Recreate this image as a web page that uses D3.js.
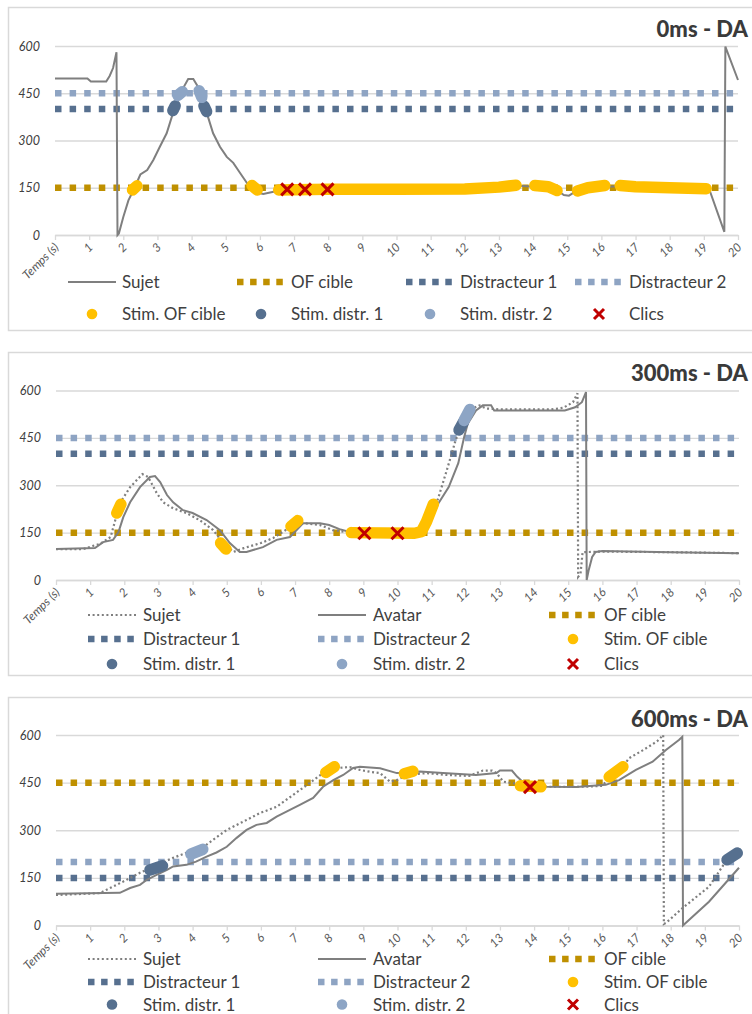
<!DOCTYPE html>
<html>
<head>
<meta charset="utf-8">
<script src="https://cdn.jsdelivr.net/npm/d3@7"></script>
<style>
body { margin: 0; background: #fff; }
svg { display: block; }
text { font-family: Lato, "Open Sans", sans-serif; }
</style>
</head>
<body>
<svg width="752" height="1014"></svg>
<script>
// axis ticks
var xTicks = [0, 1, 2, 3, 4, 5, 6, 7, 8, 9, 10, 11, 12, 13, 14, 15, 16, 17, 18, 19, 20]
var xLabels = ['Temps (s)', '1', '2', '3', '4', '5', '6', '7', '8', '9', '10', '11', '12', '13', '14', '15', '16', '17', '18', '19', '20']
var yTicks = [0, 150, 300, 450, 600]

// ---- 0ms - DA ----
var sujet0 = [[0,497],[0.95,497],[1.05,487],[1.5,487],[1.6,505],[1.7,530],[1.8,580],[1.83,0],[1.87,5],[2.0,57],[2.15,110],[2.3,143],[2.5,192],[2.7,206],[2.88,238],[3.07,280],[3.27,323],[3.42,375],[3.57,419],[3.72,460],[3.9,495],[4.05,495],[4.19,470],[4.34,429],[4.48,375],[4.63,323],[4.83,280],[5.03,248],[5.22,229],[5.42,197],[5.62,165],[5.8,137],[6.1,130],[6.4,137],[6.6,143],[8,145],[10,145],[12,146],[13,152],[13.5,157],[13.8,155],[14.3,152],[14.7,142],[14.9,127],[15.05,125],[15.2,135],[15.4,145],[16,152],[16.5,155],[17,151],[18,150],[19.15,148],[19.6,10],[19.63,598],[20,492]]
var cible0 = 150, distr1_0 = 400, distr2_0 = 450
var stimCible0 = [
    [[2.27,143],[2.4,156]],
    [[5.77,157],[5.92,143]],
    [[6.55,143],[8,145],[10,145],[12,146],[13,152],[13.5,158]],
    [[14.05,157],[14.45,153],[14.7,141]],
    [[15.3,140],[15.6,150],[16.1,157]],
    [[16.55,157],[17,153],[18,150],[19.07,147]]
]
var stimD1_0 = [[[3.45,395],[3.52,410]], [[4.36,410],[4.44,392]]]
var stimD2_0 = [[[3.6,443],[3.73,455]], [[4.22,458],[4.3,437]]]
var clics0 = [[6.8,145],[7.32,145],[7.98,145]]

// ---- 300ms - DA ----
var sujet300 = [[0,98],[0.8,98],[1.0,105],[1.3,115],[1.6,136],[1.87,243],[2.17,294],[2.53,335],[2.7,326],[2.95,275],[3.14,246],[3.43,227],[3.82,212],[4.2,190],[4.6,158],[4.9,117],[5.2,89],[5.5,101],[6.0,117],[6.36,133],[6.87,168],[7.24,180],[7.73,174],[8.1,158],[8.5,152],[9,150],[10.6,150],[10.85,175],[11.0,199],[11.2,262],[11.47,357],[11.7,442],[11.9,496],[12.2,543],[12.4,553],[12.6,543],[13,540],[14.5,540],[14.85,545],[15.14,563],[15.27,591],[15.29,10],[15.36,20],[15.42,88],[16,90],[18,88],[20,85]]
var avatar300 = [[0,98],[1.14,101],[1.38,120],[1.67,127],[1.83,152],[1.97,199],[2.17,246],[2.46,294],[2.75,326],[2.9,329],[3.05,310],[3.25,269],[3.43,246],[3.72,221],[4.0,212],[4.41,190],[4.8,158],[5.09,117],[5.38,89],[5.58,89],[6.06,104],[6.46,127],[6.85,136],[7.24,180],[7.73,180],[8.0,174],[8.3,161],[8.6,152],[9,150],[10.8,150],[11.2,243],[11.5,294],[11.78,370],[11.95,452],[12.06,496],[12.3,537],[12.5,553],[12.74,553],[12.83,537],[14.9,537],[15.2,547],[15.4,563],[15.52,595],[15.54,0],[15.6,32],[15.7,73],[15.8,89],[16,92],[18,88],[20,85]]
var cible300 = 150, distr1_300 = 400, distr2_300 = 450
var stimCible300 = [
    [[1.78,212],[1.9,240]],
    [[4.82,117],[4.98,98]],
    [[6.88,170],[7.08,188]],
    [[8.65,150],[10.5,148],[10.7,153],[10.85,185],[11.05,240]]
]
var stimD1_300 = [[[11.8,475],[11.93,500]]]
var stimD2_300 = [[[11.95,505],[12.12,540]]]
var clics300 = [[9.03,148],[10.0,148]]

// ---- 600ms - DA ----
var sujet600 = [[0,96],[1.29,102],[1.58,118],[1.96,138],[2.46,166],[2.96,191],[3.43,213],[3.82,229],[4.2,238],[4.6,270],[5.0,301],[5.48,327],[5.97,354],[6.46,374],[6.94,411],[7.43,449],[7.82,480],[8.22,496],[8.6,499],[8.9,490],[9.2,484],[9.49,480],[9.78,453],[9.98,458],[10.3,475],[10.86,480],[11.45,474],[12.1,471],[12.5,488],[12.77,488],[12.9,480],[13.1,453],[13.4,448],[13.7,440],[14.2,437],[15.5,437],[16.0,440],[16.2,465],[16.6,500],[16.78,527],[17.2,553],[17.6,580],[17.78,600],[17.8,5],[17.86,8],[18.36,56],[19.12,122],[19.7,216],[20,243]]
var avatar600 = [[0,100],[1.87,103],[2.17,118],[2.46,128],[2.66,144],[2.96,160],[3.25,175],[3.43,186],[3.82,191],[4.1,201],[4.41,217],[4.7,230],[5.0,248],[5.29,276],[5.58,301],[5.87,317],[6.17,323],[6.46,343],[6.85,364],[7.14,380],[7.53,402],[7.82,437],[8.12,458],[8.41,474],[8.7,496],[8.9,500],[9.49,495],[9.98,480],[10.3,481],[10.66,485],[11.33,480],[12.3,474],[12.9,480],[13.0,488],[13.35,488],[13.5,469],[13.7,449],[14.0,440],[14.37,437],[15.23,436],[16.1,443],[16.49,458],[16.98,490],[17.47,516],[17.86,553],[18.24,584],[18.34,594],[18.36,0],[18.39,3],[19.12,75],[20,182]]
var cible600 = 450, distr1_600 = 150, distr2_600 = 200
var stimCible600 = [
    [[7.9,482],[8.15,500]],
    [[10.2,478],[10.45,486]],
    [[13.6,440],[14.2,437]],
    [[16.2,468],[16.6,500]]
]
var stimD1_600 = [[[2.75,175],[3.12,188]], [[19.65,207],[19.95,228]]]
var stimD2_600 = [[[3.95,225],[4.3,240]]]
var clics600 = [[13.88,436]]

var C = {
    line: '#7f7f7f', cible: '#bf9000', d1: '#57708f', d2: '#8ea4c3',
    stim: '#ffc000', sd1: '#56708f', sd2: '#8da5c5', clic: '#c00000',
    grid: '#d9d9d9', text: '#404040'
}
var svg = d3.select('svg')
var xPath = 'M-6,-6L6,6M-6,6L6,-6'

function drawPanel(p) {
    var g = svg.append('g')
    g.append('rect')
        .attr('x', 8.5).attr('y', p.boxTop + 0.5)
        .attr('width', 780).attr('height', p.boxH)
        .attr('fill', 'none').attr('stroke', C.grid).attr('stroke-width', 1.5)

    var x = d3.scaleLinear().domain([0, 20]).range([p.x0, p.x1])
    var y = d3.scaleLinear().domain([0, 600]).range([p.y0, p.y1])

    // y axis + gridlines
    var ya = g.append('g')
        .attr('transform', 'translate(' + p.x0 + ',0)')
        .call(d3.axisLeft(y).tickValues(yTicks).tickSize(-(p.x1 - p.x0)).tickPadding(15))
    ya.select('.domain').remove()
    ya.selectAll('line').attr('stroke', C.grid).attr('stroke-width', 1.3)
    ya.selectAll('text')
        .style('font-size', '12.5px').style('font-style', 'italic')
        .attr('fill', C.text)

    // x axis
    var xa = g.append('g')
        .attr('transform', 'translate(0,' + p.y0 + ')')
        .call(d3.axisBottom(x).tickValues(xTicks).tickSize(5).tickSizeOuter(0)
            .tickFormat(function(d, i) { return xLabels[i] }))
    xa.select('.domain').attr('stroke', C.grid).attr('stroke-width', 1.3)
    xa.selectAll('line').attr('stroke', C.grid).attr('stroke-width', 1.3)
    xa.selectAll('text')
        .attr('x', 0).attr('y', 0).attr('dy', 0)
        .attr('text-anchor', 'end')
        .attr('transform', 'translate(4,13) rotate(-45)')
        .style('font-size', '12px').style('font-style', 'italic')
        .attr('fill', '#595959')

    // reference lines
    var refs = [[p.distr2, C.d2], [p.distr1, C.d1], [p.cible, C.cible]]
    refs.forEach(function(r) {
        g.append('line')
            .attr('x1', x(0)).attr('x2', x(20))
            .attr('y1', y(r[0])).attr('y2', y(r[0]))
            .attr('stroke', r[1]).attr('stroke-width', 6.5)
            .attr('stroke-dasharray', '6.5 8.1')
    })

    var line = d3.line().x(function(d) { return x(d[0]) }).y(function(d) { return y(d[1]) })

    if (p.avatar) {
        g.append('path').datum(p.avatar)
            .attr('d', line).attr('fill', 'none')
            .attr('stroke', C.line).attr('stroke-width', 2)
        g.append('path').datum(p.sujet)
            .attr('d', line).attr('fill', 'none')
            .attr('stroke', C.line).attr('stroke-width', 2.2)
            .attr('stroke-dasharray', '2 2.6')
    } else {
        g.append('path').datum(p.sujet)
            .attr('d', line).attr('fill', 'none')
            .attr('stroke', C.line).attr('stroke-width', 2)
    }

    // stimulations
    var stims = [[p.stimCible, C.stim], [p.stimD1, C.sd1], [p.stimD2, C.sd2]]
    stims.forEach(function(s) {
        g.append('g').selectAll('path')
            .data(s[0]).enter().append('path')
            .attr('d', line).attr('fill', 'none')
            .attr('stroke', s[1]).attr('stroke-width', 11.5)
            .attr('stroke-linecap', 'round').attr('stroke-linejoin', 'round')
    })

    // clics
    g.append('g').selectAll('path')
        .data(p.clics).enter().append('path')
        .attr('d', xPath)
        .attr('transform', function(d) { return 'translate(' + x(d[0]) + ',' + y(d[1]) + ')' })
        .attr('fill', 'none').attr('stroke', C.clic).attr('stroke-width', 3)

    // title
    g.append('text')
        .attr('x', 748).attr('y', p.titleY)
        .attr('text-anchor', 'end')
        .style('font-size', '22px').style('font-weight', 900)
        .attr('fill', '#3a3a3a')
        .text(p.title)

    // legend
    p.legend.forEach(function(item, i) {
        var col = i % p.cols.length, row = Math.floor(i / p.cols.length)
        var lx = p.cols[col], ly = p.rows[row]
        var lg = g.append('g')
        if (item.type == 'solid' || item.type == 'dotted') {
            lg.append('line').attr('x1', lx).attr('x2', lx + 48).attr('y1', ly).attr('y2', ly)
                .attr('stroke', C.line).attr('stroke-width', 2.2)
                .attr('stroke-dasharray', item.type == 'dotted' ? '2 2.6' : null)
        } else if (item.type == 'dash') {
            lg.append('line').attr('x1', lx).attr('x2', lx + 47).attr('y1', ly).attr('y2', ly)
                .attr('stroke', item.color).attr('stroke-width', 6.5)
                .attr('stroke-dasharray', '6.5 6.6')
        } else if (item.type == 'dot') {
            lg.append('circle').attr('cx', lx + 24).attr('cy', ly).attr('r', 5.3)
                .attr('fill', item.color)
        } else {
            lg.append('path').attr('d', 'M-5,-5L5,5M-5,5L5,-5')
                .attr('transform', 'translate(' + (lx + 24) + ',' + ly + ')')
                .attr('fill', 'none').attr('stroke', C.clic).attr('stroke-width', 3)
        }
        lg.append('text')
            .attr('x', lx + p.textDx).attr('y', ly + 6)
            .style('font-size', '17px').attr('fill', C.text)
            .text(item.label)
    })
}

var legendSingle = [
    {label: 'Sujet', type: 'solid'},
    {label: 'OF cible', type: 'dash', color: C.cible},
    {label: 'Distracteur 1', type: 'dash', color: C.d1},
    {label: 'Distracteur 2', type: 'dash', color: C.d2},
    {label: 'Stim. OF cible', type: 'dot', color: C.stim},
    {label: 'Stim. distr. 1', type: 'dot', color: C.sd1},
    {label: 'Stim. distr. 2', type: 'dot', color: C.sd2},
    {label: 'Clics', type: 'x'}
]
var legendDouble = [
    {label: 'Sujet', type: 'dotted'},
    {label: 'Avatar', type: 'solid'},
    {label: 'OF cible', type: 'dash', color: C.cible},
    {label: 'Distracteur 1', type: 'dash', color: C.d1},
    {label: 'Distracteur 2', type: 'dash', color: C.d2},
    {label: 'Stim. OF cible', type: 'dot', color: C.stim},
    {label: 'Stim. distr. 1', type: 'dot', color: C.sd1},
    {label: 'Stim. distr. 2', type: 'dot', color: C.sd2},
    {label: 'Clics', type: 'x'}
]

drawPanel({
    title: '0ms - DA', titleY: 37, boxTop: 7, boxH: 323,
    x0: 55, x1: 738, y0: 235, y1: 46,
    sujet: sujet0, cible: cible0, distr1: distr1_0, distr2: distr2_0,
    stimCible: stimCible0, stimD1: stimD1_0, stimD2: stimD2_0, clics: clics0,
    legend: legendSingle, cols: [68, 237, 406, 575], rows: [282, 314], textDx: 54
})
drawPanel({
    title: '300ms - DA', titleY: 381, boxTop: 352, boxH: 323,
    x0: 56, x1: 739, y0: 580, y1: 390.5,
    sujet: sujet300, avatar: avatar300, cible: cible300, distr1: distr1_300, distr2: distr2_300,
    stimCible: stimCible300, stimD1: stimD1_300, stimD2: stimD2_300, clics: clics300,
    legend: legendDouble, cols: [88, 318, 549], rows: [615, 639, 664], textDx: 55
})
drawPanel({
    title: '600ms - DA', titleY: 727, boxTop: 697, boxH: 340,
    x0: 56, x1: 739, y0: 925.5, y1: 735,
    sujet: sujet600, avatar: avatar600, cible: cible600, distr1: distr1_600, distr2: distr2_600,
    stimCible: stimCible600, stimD1: stimD1_600, stimD2: stimD2_600, clics: clics600,
    legend: legendDouble, cols: [88, 318, 549], rows: [959, 982, 1004.5], textDx: 55
})
</script>
</body>
</html>
